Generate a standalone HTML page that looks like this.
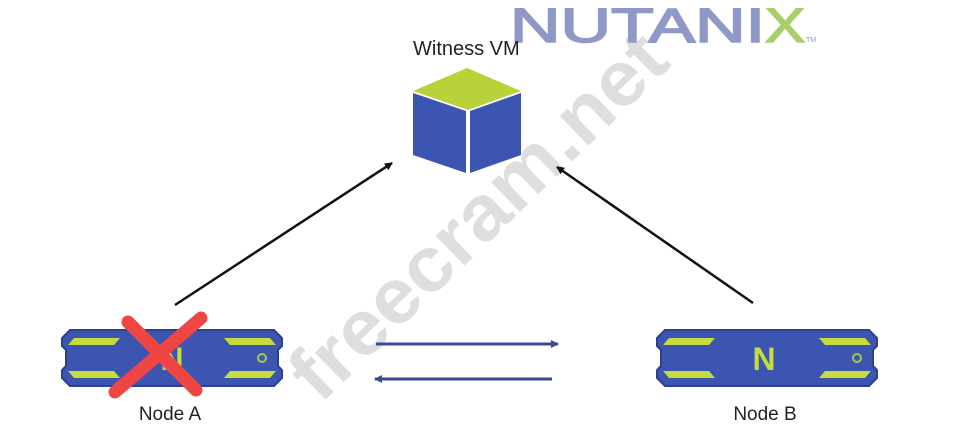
<!DOCTYPE html>
<html><head><meta charset="utf-8"><style>
html,body{margin:0;padding:0;background:#fff;}
svg{display:block;}
</style></head><body>
<svg width="955" height="445" viewBox="0 0 955 445" xmlns="http://www.w3.org/2000/svg">
<defs>
<marker id="ab" markerWidth="8" markerHeight="8" refX="7" refY="4" orient="auto" markerUnits="userSpaceOnUse"><path d="M0,0 L8,4 L0,8 Z" fill="#111"/></marker>
<marker id="ablue" markerWidth="8" markerHeight="8" refX="7" refY="4" orient="auto" markerUnits="userSpaceOnUse"><path d="M0,0 L8,4 L0,8 Z" fill="#3a4a9a"/></marker>
<g id="node">
<polygon points="8,0 212,0 220,8 220,16 216,20 216,36 220,40 220,48 212,56 8,56 0,48 0,40 4,36 4,20 0,16 0,8" fill="#3b55b0" stroke="#2f3f8f" stroke-width="2"/>
<polygon points="12,8 58,8 52,15 6,15" fill="#c5dc3c"/>
<polygon points="6,41 52,41 58,48 12,48" fill="#c5dc3c"/>
<polygon points="162,8 208,8 214,15 168,15" fill="#c5dc3c"/>
<polygon points="168,41 214,41 208,48 162,48" fill="#c5dc3c"/>
<circle cx="200" cy="28" r="4" fill="none" stroke="#a8c84a" stroke-width="2"/>
</g>
</defs>

<!-- Watermark -->
<text x="0" y="0" transform="translate(320,405) rotate(-44)" font-family="Liberation Sans, sans-serif" font-weight="bold" font-size="78" fill="#dedede" textLength="490" lengthAdjust="spacingAndGlyphs">freecram.net</text>

<!-- NUTANIX logo -->
<text x="510" y="42" font-family="Liberation Sans, sans-serif" font-size="48" fill="#8e99c7" stroke="#8e99c7" stroke-width="1.6" textLength="255" lengthAdjust="spacingAndGlyphs">NUTANI</text>
<text x="765" y="42" font-family="Liberation Sans, sans-serif" font-size="48" fill="#a8cf6a" stroke="#a8cf6a" stroke-width="1.6" textLength="40" lengthAdjust="spacingAndGlyphs">X</text>
<text x="806" y="42" font-family="Liberation Sans, sans-serif" font-size="7" fill="#8e99c7">TM</text>

<!-- Witness VM -->
<text x="413" y="55" font-family="Liberation Sans, sans-serif" font-size="20" fill="#222">Witness VM</text>
<polygon points="467,68 521,91 468,110 413,91" fill="#b9d23a"/>
<polygon points="413,93 466,111 466,173 413,155" fill="#3b55b0"/>
<polygon points="470,111 521,93 521,155 470,173" fill="#3b55b0"/>

<!-- Diagonal arrows -->
<line x1="175" y1="305" x2="392" y2="163" stroke="#111" stroke-width="2.5" marker-end="url(#ab)"/>
<line x1="753" y1="303" x2="557" y2="167" stroke="#111" stroke-width="2.5" marker-end="url(#ab)"/>

<!-- Horizontal arrows -->
<line x1="376" y1="344" x2="558" y2="344" stroke="#3a4a9a" stroke-width="3" marker-end="url(#ablue)"/>
<line x1="552" y1="379" x2="375" y2="379" stroke="#3a4a9a" stroke-width="3" marker-end="url(#ablue)"/>

<!-- Node A -->
<g transform="translate(62,330)"><use href="#node"/>
<text x="110" y="40" text-anchor="middle" font-family="Liberation Sans, sans-serif" font-weight="bold" font-size="32" fill="#c5dc3c">N</text></g>
<g stroke="#f04545" stroke-width="13" stroke-linecap="round">
<line x1="128" y1="322" x2="196" y2="390"/>
<line x1="201" y1="318" x2="115" y2="392"/>
</g>
<text x="170" y="420" text-anchor="middle" font-family="Liberation Sans, sans-serif" font-size="19" fill="#222">Node A</text>

<!-- Node B -->
<g transform="translate(657,330)"><use href="#node"/>
<text x="107" y="40" text-anchor="middle" font-family="Liberation Sans, sans-serif" font-weight="bold" font-size="32" fill="#c5dc3c">N</text></g>
<text x="765" y="420" text-anchor="middle" font-family="Liberation Sans, sans-serif" font-size="19" fill="#222">Node B</text>
</svg>
</body></html>
